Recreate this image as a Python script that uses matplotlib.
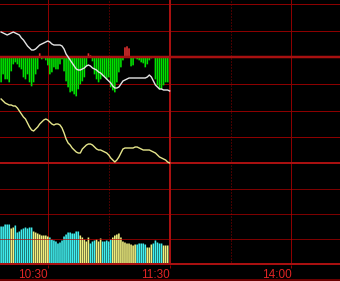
import numpy as np
import matplotlib
matplotlib.use("Agg")
import matplotlib.pyplot as plt
from matplotlib.lines import Line2D

# minutes since 9:30 (afternoon session continues after 120 = 11:30/13:00)
minutes = np.arange(37, 121)

# price line (white) and average line (yellow), height inside the price panel
price = [132, 131, 130, 129, 130, 131, 132, 131, 130, 129, 126, 124, 121, 118, 116, 114,
         114, 115, 117, 119, 120, 121, 122, 123, 122, 120, 119, 119, 119, 119, 118, 115,
         110, 107, 104, 101, 98, 95, 94, 94, 95, 96, 98, 99, 98, 96, 95, 94,
         92, 91, 89, 87, 85, 83, 81, 78, 76, 76, 77, 80, 83, 84, 85, 86,
         86, 86, 86, 86, 86, 86, 86, 86, 87, 89, 87, 83, 79, 77, 75, 75,
         74, 74, 74, 73]
avg_price = [65, 63, 61, 60, 59, 59, 58, 58, 56, 53, 50, 47, 45, 41, 37, 34,
             33, 35, 37, 40, 42, 44, 45, 44, 42, 40, 39, 40, 40, 39, 36, 31,
             25, 21, 19, 16, 14, 12, 11, 11, 15, 17, 19, 20, 20, 19, 17, 15,
             14, 14, 13, 12, 11, 9, 6, 4, 2, 4, 7, 11, 15, 16, 16, 16,
             16, 16, 17, 17, 16, 15, 14, 14, 14, 14, 13, 12, 11, 9, 7, 6,
             5, 4, 2, 1]
# buy/sell flow bars around the reference line (negative = green)
flow = [-25, -17, -22, -22, -25, -14, -7, -5, -7, -10, -12, -20, -22, -17, -25, -29,
        -25, -17, -12, 4, -2, -1, -3, -8, -17, -15, -10, -12, -12, -7, -2, -14,
        -24, -30, -35, -34, -37, -39, -32, -27, -24, -20, -9, 4, 2, -4, -17, -22,
        -25, -22, -19, -20, -22, -20, -30, -33, -35, -25, -15, -10, -3, 10, 11, 9,
        -9, -8, -1, -2, -3, -5, -6, -10, -7, -3, -1, 1, -22, -28, -32, -32,
        -28, -25, -25, -25]
# volume bars
volume = [38, 38, 40, 40, 40, 36, 37, 39, 32, 33, 35, 36, 37, 36, 37, 37,
          33, 32, 31, 30, 29, 29, 29, 28, 27, 25, 24, 23, 21, 22, 24, 28,
          30, 32, 32, 31, 31, 33, 33, 29, 27, 25, 23, 27, 21, 23, 24, 25,
          23, 26, 23, 23, 24, 23, 25, 27, 29, 30, 31, 27, 23, 22, 21, 21,
          20, 19, 20, 20, 21, 21, 21, 20, 17, 17, 20, 21, 24, 22, 21, 21,
          19, 19, 19, 19]
vol_dir = "cccccyyccccccccc" + "yyyyyyyy" + "ccccccccccccccc" + "yyyyy" + "ccc" + "yyy" \
          + "ccccc" + "yyyyyyyyyyyy" + "ccccc" + "yyy" + "ccccc" + "yyy" + "c"

tick_pos = [60, 120, 180]
tick_labels = ["10:30", "11:30", "14:00"]

BG = "black"
GRID = "#8c0000"
THICK = "#a81010"
PX = 72 / 100  # one pixel in points

fig = plt.figure(figsize=(3.4, 2.81), dpi=100, facecolor=BG)
H = 281.0
ax_p = fig.add_axes([0, (H - 164) / H, 1, 164 / H])
ax_v = fig.add_axes([0, (H - 264.5) / H, 1, 100.5 / H])

xlim = (36.45, 203.9)
for ax in (ax_p, ax_v):
    ax.set_facecolor(BG)
    ax.set_xlim(*xlim)
    for s in ax.spines.values():
        s.set_visible(False)
    ax.set_yticks([])
    for m in (60, 180):
        ax.axvline(m, color=GRID, lw=PX, zorder=1)
    for m in (90, 150):
        ax.axvline(m, color=GRID, lw=PX, ls=(0, (1, 2)), zorder=1)
    ax.axvline(120, color=THICK, lw=2 * PX, zorder=4)

# price panel
ax_p.set_ylim(0, 164)
ax_p.set_xticks([])
base = 160 * 4 / 6
for h in np.linspace(0, 160, 7)[1:]:
    if abs(h - base) < 1:
        continue
    ax_p.axhline(h, color=GRID, lw=PX, zorder=1)
ax_p.axhline(base, color=THICK, lw=2.5 * PX, zorder=4)
ax_p.axhline(0.7, color=THICK, lw=2 * PX, zorder=4)

flow = np.array(flow)
fcol = ["#00e000" if f < 0 else "#e03030" for f in flow]
ax_p.bar(minutes, flow, bottom=base, width=0.8, color=fcol, linewidth=0,
         snap=False, zorder=2)
ax_p.plot(minutes, avg_price, color="#e6e68c", lw=1.0, zorder=5)
ax_p.plot(minutes, price, color="#e4e4e4", lw=1.0, zorder=6)

# volume panel
ax_v.set_ylim(0, 100.5)
for h in (25.1, 50.2, 75.4):
    ax_v.axhline(h, color="#c00000", lw=PX, alpha=0.65, zorder=4)
ax_v.axhline(0.5, color=THICK, lw=2 * PX, zorder=4)
vcol = ["#40f0f0" if d == "c" else "#f0f080" for d in vol_dir]
ax_v.bar(minutes, volume, width=0.8, color=vcol, linewidth=0, snap=False, zorder=2)

ax_v.set_xticks(tick_pos)
ax_v.set_xticklabels(tick_labels, fontsize=8.5, family="Liberation Sans",
                     color="#e02424", ha="right")
ax_v.tick_params(axis="x", length=2.5, width=PX, color=GRID, pad=1)

fig.add_artist(Line2D([0, 1], [0.8 / H, 0.8 / H], color="#800000", lw=1.2))

fig.savefig("out.png", dpi=100, facecolor=BG)
